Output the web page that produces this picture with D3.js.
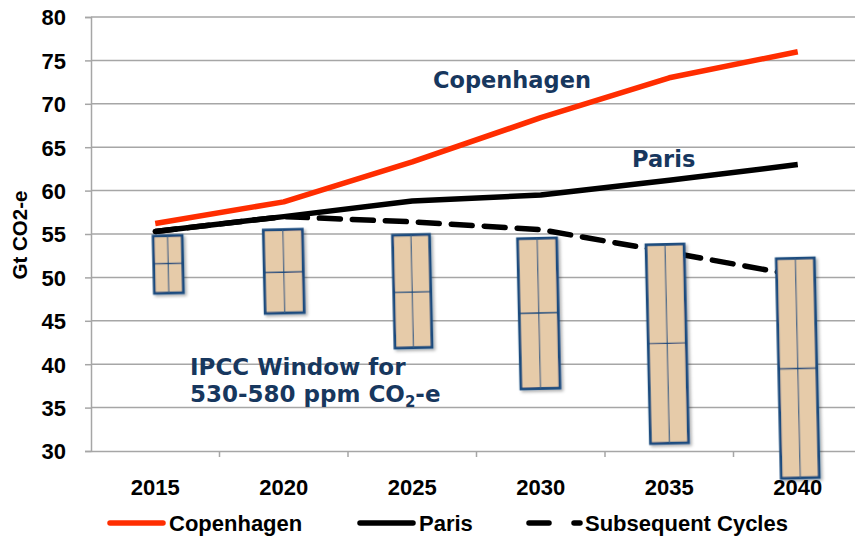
<!DOCTYPE html>
<html lang="en">
<head>
  <meta charset="UTF-8" />
  <title>Emission pathways vs IPCC window</title>
  <script src="https://d3js.org/d3.v7.min.js"></script>
  <style>
    body { margin: 0; background: #fff; }
    svg { display: block; }
    .tick-label {
      font-family: "Liberation Sans", Arial, sans-serif;
      font-weight: bold;
      font-size: 22px;
      fill: #000;
    }
    .note {
      font-family: "DejaVu Sans", Verdana, sans-serif;
      font-weight: bold;
      fill: #17375e;
    }
  </style>
</head>
<body>
  <svg id="chart"></svg>
  <script>
    // data
    const years        = ["2015", "2020", "2025", "2030", "2035", "2040"];
    const copenhagen   = [56.2, 58.7, 63.3, 68.4, 73.0, 76.0];
    const paris        = [55.3, 57.0, 58.8, 59.5, 61.2, 63.0];
    const subsequent   = [55.3, 57.0, 56.4, 55.5, 52.9, 50.2];
    const windowHigh   = [54.8, 55.5, 54.9, 54.5, 53.8, 52.2];
    const windowMid    = [51.6, 50.6, 48.3, 45.9, 42.4, 39.5];
    const windowLow    = [48.2, 45.9, 41.9, 37.2, 30.9, 26.9];
    const yTicks       = [30, 35, 40, 45, 50, 55, 60, 65, 70, 75, 80];
    const seriesNames  = ["Copenhagen", "Paris", "Subsequent Cycles"];

    // box layout tweaks (the first window sits a bit right and is narrower)
    const boxShift = [13, 0, 0, -2, -2, 0];
    const boxWidth = [29, 39, 37, 39, 38, 38];

    const W = 855, H = 538;
    const margin = { top: 17, left: 91, bottom: 87 };
    const plotW = 771;
    const plotH = H - margin.top - margin.bottom;

    const svg = d3.select("#chart").attr("width", W).attr("height", H);

    const defs = svg.append("defs");
    const shadow = defs.append("filter").attr("id", "shadow")
      .attr("x", "-30%").attr("y", "-10%").attr("width", "160%").attr("height", "120%");
    shadow.append("feDropShadow")
      .attr("dx", 2).attr("dy", 2).attr("stdDeviation", 1.5)
      .attr("flood-color", "#000").attr("flood-opacity", 0.3);

    const g = svg.append("g").attr("transform", `translate(${margin.left},${margin.top})`);

    const x = d3.scaleBand().domain(years).range([0, plotW]);
    const y = d3.scaleLinear().domain([30, 80]).range([plotH, 0]);
    const cx = d => x(d) + x.bandwidth() / 2;

    // gridlines
    g.append("g").selectAll("line")
      .data(yTicks.slice(1))
      .join("line")
        .attr("x1", 0).attr("x2", plotW)
        .attr("y1", d => y(d)).attr("y2", d => y(d))
        .attr("stroke", "#a6a6a6").attr("stroke-width", 1.5);

    // y axis
    const yAxis = g.append("g")
      .call(d3.axisLeft(y).tickValues(yTicks).tickSize(6).tickPadding(19));
    yAxis.select(".domain").attr("stroke", "#a6a6a6").attr("stroke-width", 1.5);
    yAxis.selectAll(".tick line").attr("stroke", "#a6a6a6").attr("stroke-width", 1.5);
    yAxis.selectAll(".tick text").attr("class", "tick-label").attr("dy", "0.36em");

    // x axis
    const xAxis = g.append("g")
      .attr("transform", `translate(0,${plotH})`)
      .call(d3.axisBottom(x).tickSize(0));
    xAxis.select(".domain").attr("stroke", "#a6a6a6").attr("stroke-width", 1.5);
    xAxis.selectAll(".tick text").attr("class", "tick-label").attr("y", 44).attr("dy", 0);
    // category separators
    g.append("g").selectAll("line")
      .data(years.slice(1))
      .join("line")
        .attr("x1", d => x(d)).attr("x2", d => x(d))
        .attr("y1", plotH).attr("y2", plotH + 6)
        .attr("stroke", "#a6a6a6").attr("stroke-width", 1.5);

    // y axis title
    svg.append("text")
      .attr("transform", "translate(27,235) rotate(-90)")
      .attr("text-anchor", "middle")
      .attr("font-family", "Liberation Sans, Arial, sans-serif")
      .attr("font-weight", "bold")
      .attr("font-size", 20.5)
      .text("Gt CO2-e");

    // lines
    const line = d3.line()
      .x((d, i) => cx(years[i]))
      .y(d => y(d));

    g.append("path").datum(subsequent)
      .attr("d", line).attr("fill", "none")
      .attr("stroke", "#000").attr("stroke-width", 5.5)
      .attr("stroke-dasharray", "21,12").attr("stroke-linecap", "round");

    g.append("path").datum(paris)
      .attr("d", line).attr("fill", "none")
      .attr("stroke", "#000").attr("stroke-width", 5.5)
      .attr("stroke-linejoin", "round");

    g.append("path").datum(copenhagen)
      .attr("d", line).attr("fill", "none")
      .attr("stroke", "#ff2d00").attr("stroke-width", 5.5)
      .attr("stroke-linejoin", "round");

    // IPCC window boxes
    const boxes = g.append("g").selectAll("g")
      .data(years)
      .join("g")
        .attr("transform", (d, i) => {
          const mx = cx(d) + boxShift[i];
          const my = (y(windowHigh[i]) + y(windowLow[i])) / 2;
          return `rotate(-1.3,${mx},${my})`;
        })
        .attr("filter", "url(#shadow)");

    boxes.append("rect")
      .attr("x", (d, i) => cx(d) + boxShift[i] - boxWidth[i] / 2)
      .attr("y", (d, i) => y(windowHigh[i]))
      .attr("width", (d, i) => boxWidth[i])
      .attr("height", (d, i) => y(windowLow[i]) - y(windowHigh[i]))
      .attr("fill", "#e6cba9")
      .attr("stroke", "#1b4b7e").attr("stroke-width", 2.8);

    boxes.append("line")
      .attr("x1", (d, i) => cx(d) + boxShift[i])
      .attr("x2", (d, i) => cx(d) + boxShift[i])
      .attr("y1", (d, i) => y(windowHigh[i]))
      .attr("y2", (d, i) => y(windowLow[i]))
      .attr("stroke", "#3f6287").attr("stroke-width", 1.2);

    boxes.append("line")
      .attr("x1", (d, i) => cx(d) + boxShift[i] - boxWidth[i] / 2)
      .attr("x2", (d, i) => cx(d) + boxShift[i] + boxWidth[i] / 2)
      .attr("y1", (d, i) => y(windowMid[i]))
      .attr("y2", (d, i) => y(windowMid[i]))
      .attr("stroke", "#1b4b7e").attr("stroke-width", 1.4);

    // annotations
    svg.append("text").attr("class", "note")
      .attr("x", 433).attr("y", 88).attr("font-size", 22.5)
      .text("Copenhagen");
    svg.append("text").attr("class", "note")
      .attr("x", 632).attr("y", 167).attr("font-size", 22.5)
      .text("Paris");
    const ipcc = svg.append("text").attr("class", "note")
      .attr("x", 190).attr("y", 375).attr("font-size", 23);
    ipcc.append("tspan").text("IPCC Window for");
    const l2 = ipcc.append("tspan").attr("x", 190).attr("dy", 27);
    l2.append("tspan").text("530-580 ppm CO");
    l2.append("tspan").attr("font-size", 15).attr("dy", 5).text("2");
    l2.append("tspan").attr("dy", -5).text("-e");

    // legend
    const legendX = [108, 358, 527];
    const legend = svg.append("g").attr("transform", "translate(0,523)");
    seriesNames.forEach((name, i) => {
      const lg = legend.append("g").attr("transform", `translate(${legendX[i]},0)`);
      if (i < 2) {
        lg.append("line")
          .attr("x1", 2).attr("x2", 55).attr("y1", 0).attr("y2", 0)
          .attr("stroke", i === 0 ? "#ff2d00" : "#000")
          .attr("stroke-width", 5.5).attr("stroke-linecap", "round");
      } else {
        lg.append("line")
          .attr("x1", 2).attr("x2", 22).attr("y1", 0).attr("y2", 0)
          .attr("stroke", "#000").attr("stroke-width", 5.5).attr("stroke-linecap", "round");
        lg.append("line")
          .attr("x1", 47).attr("x2", 53).attr("y1", 0).attr("y2", 0)
          .attr("stroke", "#000").attr("stroke-width", 5.5).attr("stroke-linecap", "round");
      }
      lg.append("text")
        .attr("class", "tick-label")
        .attr("x", i === 2 ? 58 : 61).attr("y", 0).attr("dy", "0.36em")
        .text(name);
    });
  </script>
</body>
</html>
